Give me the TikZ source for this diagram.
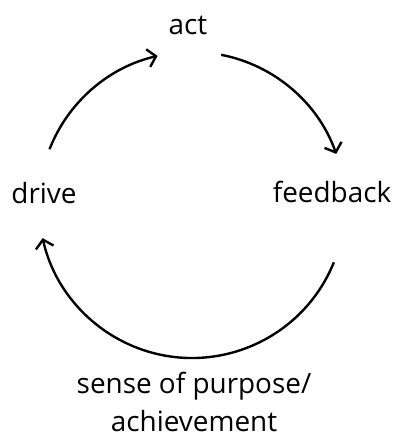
\documentclass[tikz,border=0pt]{standalone}
\usepackage{fontspec}
\setmainfont{Open Sans}
\usetikzlibrary{arrows.meta}
\begin{document}
\begin{tikzpicture}[x=1bp,y=1bp,
  label/.style={font=\fontsize{28}{39}\selectfont, inner sep=0pt, anchor=base, align=center},
  cycle/.style={line width=2.4bp, -{Straight Barb[length=8bp,width=18bp,line width=2.4bp]}}]
  \useasboundingbox (0,0) rectangle (397,437);
  % stage labels
  \node[label] (act) at (188,402) {act};
  \node[label] (drive) at (44,233) {drive};
  \node[label] (feedback) at (332,234) {feedback};
  % the base anchor of a two-line node sits on its last line
  \node[label] (sense) at (194,5) {sense of purpose/\\achievement};
  % centre of the cycle
  \coordinate (o) at (192,232);
  \def\R{153}
  % drive -> act
  \draw[cycle] ([shift={(158.6:\R)}]o) arc[start angle=158.6, end angle=103, radius=\R];
  % act -> feedback
  \draw[cycle] ([shift={(79:\R)}]o) arc[start angle=79, end angle=19.5, radius=\R];
  % feedback -> drive, through sense of purpose
  \draw[cycle] ([shift={(-22:\R)}]o) arc[start angle=-22, end angle=-167.5, radius=\R];
\end{tikzpicture}
\end{document}
